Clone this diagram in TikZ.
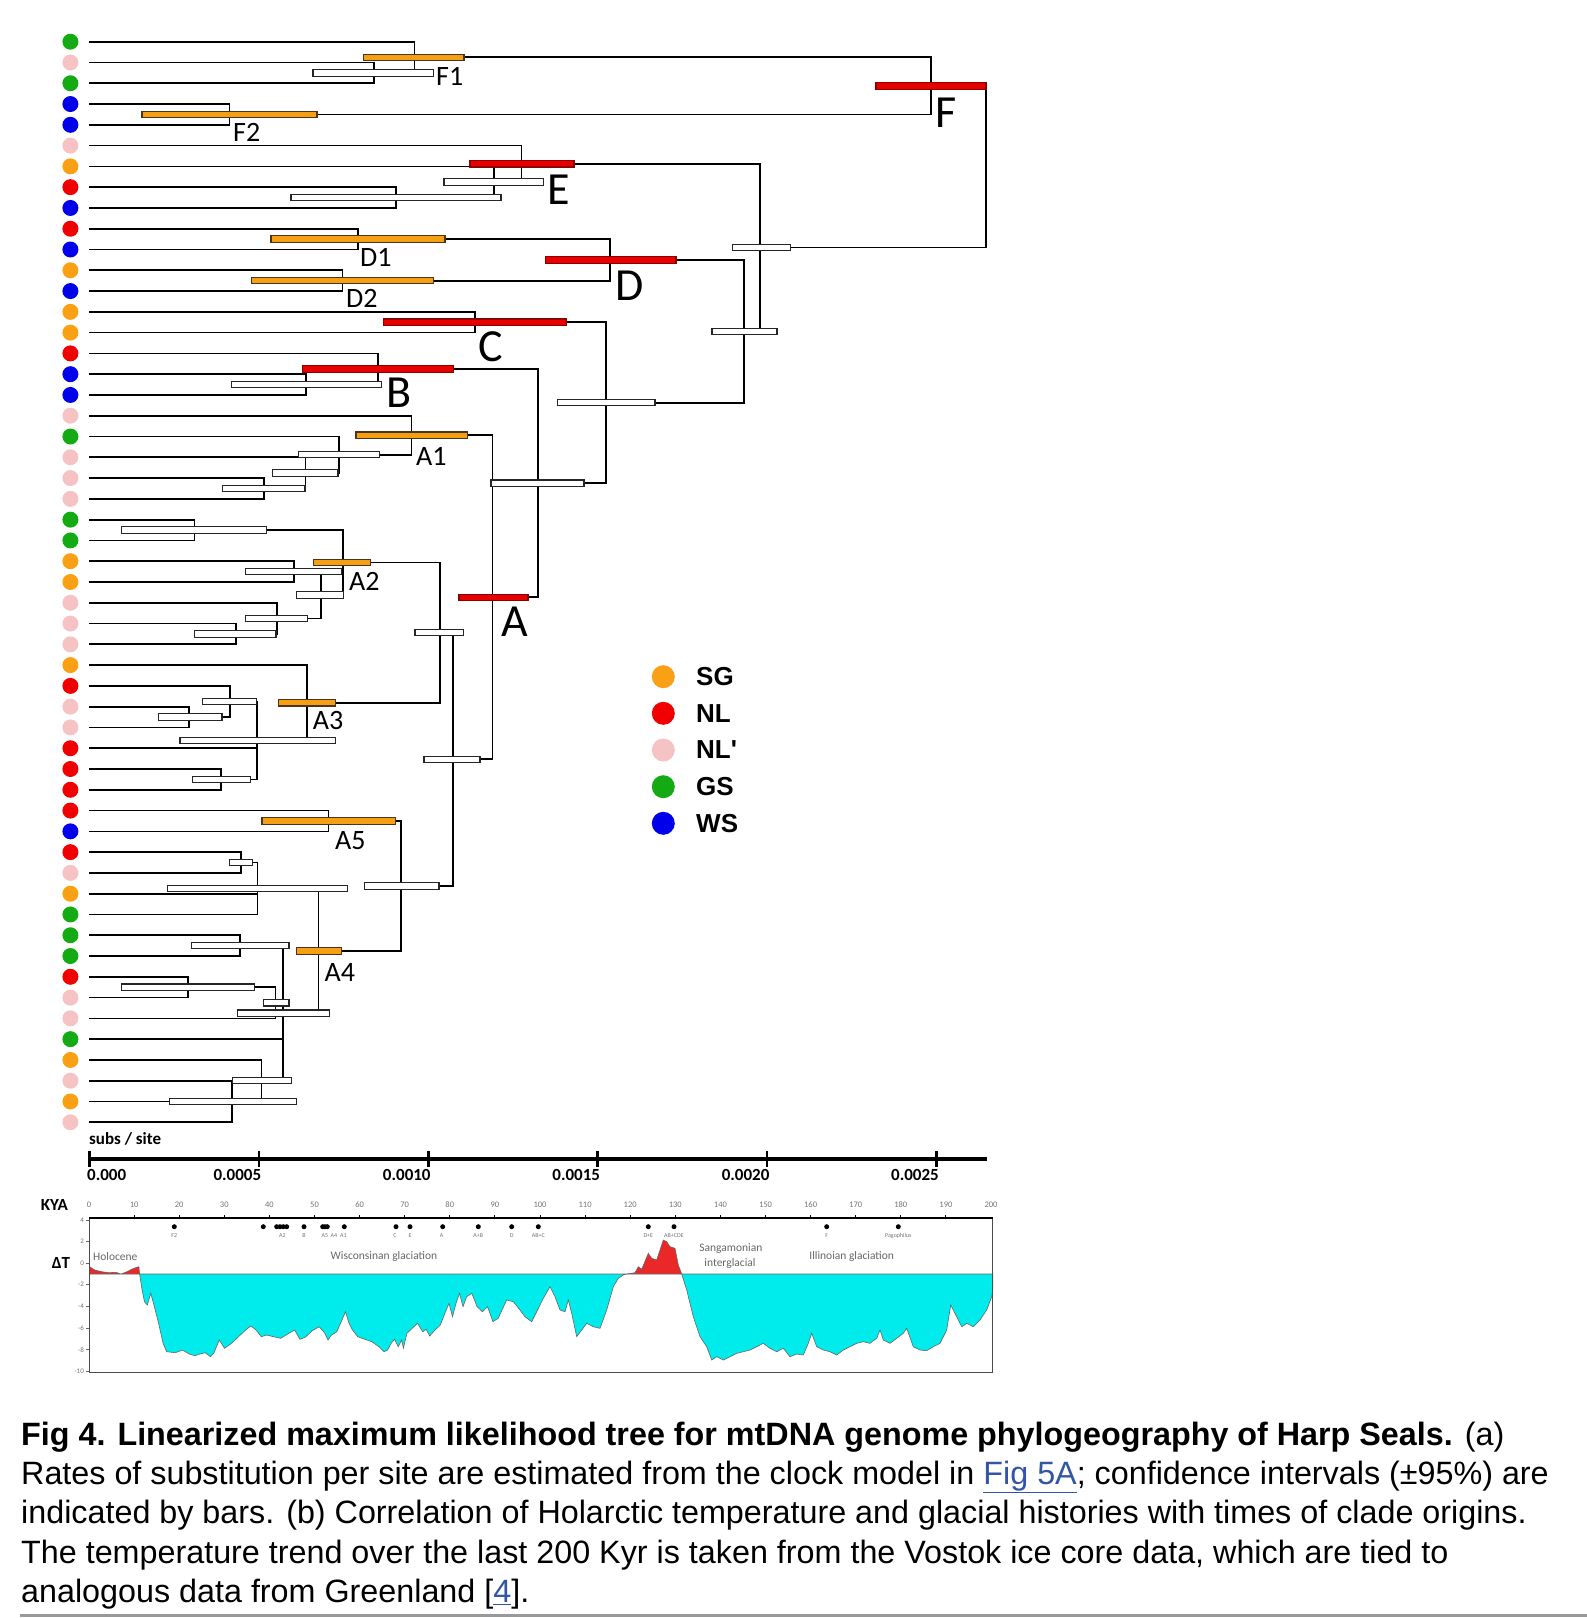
\documentclass[tikz,border=0pt]{standalone}
\usepackage{fontspec}
\setmainfont{Liberation Sans}
\newfontfamily\calib{Carlito}
\usetikzlibrary{positioning}
\definecolor{sg}{RGB}{250,160,20}
\definecolor{nl}{RGB}{240,0,0}
\definecolor{nlp}{RGB}{245,195,195}
\definecolor{gs}{RGB}{20,170,20}
\definecolor{ws}{RGB}{0,0,235}
\definecolor{barred}{RGB}{230,0,0}
\definecolor{barorange}{RGB}{245,160,20}
\definecolor{ice}{RGB}{0,235,235}
\definecolor{warm}{RGB}{235,40,40}
\definecolor{link}{RGB}{50,85,165}

\begin{document}
\begin{tikzpicture}[x=1pt,y=-1pt,
  tip/.style={circle,inner sep=0pt,minimum size=16pt},
  branch/.style={line width=1.7pt},
  wbar/.style={draw=black!85,fill=white,line width=1.1pt},
  obar/.style={draw=black!60!brown,fill=barorange,line width=1.1pt},
  rbar/.style={draw=red!55!black,fill=barred,line width=1.1pt},
  cladelab/.style={font={\calib\fontsize{28}{28}\selectfont},inner sep=0pt,anchor=west},
  majorlab/.style={font={\calib\fontsize{46}{46}\selectfont},inner sep=0pt,anchor=west},
  keydot/.style={circle,inner sep=0pt,minimum size=23pt},
  keytext/.style={font={\bfseries\fontsize{26}{26}\selectfont},inner sep=0pt},
  axnum/.style={font={\calib\bfseries\fontsize{17}{17}\selectfont},inner sep=0pt},
  kyanum/.style={font={\calib\fontsize{8.5}{8.5}\selectfont},text=black!55,inner sep=0pt},
  tnum/.style={font={\calib\fontsize{7}{7}\selectfont},text=black!55,inner sep=0pt,anchor=east},
  evdot/.style={circle,fill=black,inner sep=0pt,minimum size=5pt},
  evlab/.style={font={\calib\fontsize{6}{6}\selectfont},text=black!55,inner sep=0pt},
  era/.style={font={\calib\fontsize{11.5}{11.5}\selectfont},text=black!60,inner sep=0pt},
  capt/.style={font={\fontsize{32.3}{32.3}\selectfont},inner sep=0pt,anchor=base west}]
\useasboundingbox (0,0) rectangle (1587,1618);

\foreach \c [count=\i from 0] in {gs,nlp,gs,ws,ws,nlp,sg,nl,ws,nl,ws,sg,ws,sg,sg,nl,ws,ws,nlp,gs,nlp,nlp,nlp,gs,gs,sg,sg,nlp,nlp,nlp,sg,nl,nlp,nlp,nl,nl,nl,nl,ws,nl,nlp,sg,gs,gs,gs,nl,nlp,nlp,gs,sg,nlp,sg,nlp}
  {\coordinate (t\i) at (89,{41.7+20.78*\i});
   \node[tip,fill=\c] (d\i) at (70.4,{41.7+20.78*\i}) {};}

\foreach \n/\x/\y in {n12/374/72.9,F1/414.5/57.3,F2/229.6/114.4,F/931/85.9,n78/396/197.6,n678/493.7/182,
  E/521.6/163.8,D1/357.8/239.1,D2/342.5/280.7,D/610.3/259.9,C/475.3/322.2,n1617/306/384.6,B/377.7/369,
  n2122/264/488.5,n20/305.4/472.9,n19/338.7/454.7,A1/411.4/435.2,n2324/194.4/530,n2526/294.3/571.6,
  n2829/235.7/633.9,Z2/276.7/618.4,Z1/320.7/595,A2/342.7/562.5,n3233/189.3/717.1,W2/230/701.5,
  n3536/221/779.4,W1/257.3/740.5,A3/306.7/702.8,Y2/440/632.7,A5/328.4/821,n3940/241/862.5,
  V1/257.6/888.5,n4344/240.3/945.7,n4546/188.3/987.2,U/275.5/1002.8,S/232.3/1101.5,T/261.4/1080.7,
  V2/283.2/1013.2,A4/318.4/950.9,Y3/401/886,Y1/452.7/759.3,A/492.5/597.3,X3/537.7/483.2,
  X2/606/402.7,X1/744/331.3,X0/760/247.6,R/986/166.7}
  \coordinate (\n) at (\x,\y);

\foreach \c/\p in {t1/n12,t2/n12,t0/F1,n12/F1,t3/F2,t4/F2,F1/F,F2/F,t7/n78,t8/n78,t6/n678,n78/n678,
  t5/E,n678/E,t9/D1,t10/D1,t11/D2,t12/D2,D1/D,D2/D,t13/C,t14/C,t16/n1617,t17/n1617,t15/B,n1617/B,
  t21/n2122,t22/n2122,t20/n20,n2122/n20,t19/n19,n20/n19,t18/A1,n19/A1,t23/n2324,t24/n2324,
  t25/n2526,t26/n2526,t28/n2829,t29/n2829,t27/Z2,n2829/Z2,n2526/Z1,Z2/Z1,n2324/A2,Z1/A2,
  t32/n3233,t33/n3233,t31/W2,n3233/W2,t35/n3536,t36/n3536,W2/W1,t34/W1,n3536/W1,t30/A3,W1/A3,
  A2/Y2,A3/Y2,t37/A5,t38/A5,t39/n3940,t40/n3940,n3940/V1,t41/V1,t42/V1,t43/n4344,t44/n4344,
  t45/n4546,t46/n4546,n4546/U,t47/U,t50/S,t51/S,t52/S,t49/T,S/T,n4344/V2,U/V2,t48/V2,T/V2,
  V1/A4,V2/A4,A5/Y3,A4/Y3,Y2/Y1,Y3/Y1,A1/A,Y1/A,B/X3,A/X3,C/X2,X3/X2,D/X1,X2/X1,E/X0,X1/X0,F/R,X0/R}
  \draw[branch] (\c) -| (\p);

\foreach \s/\a/\b/\y in {wbar/313/433.6/72.9,obar/363.6/464/57.3,obar/142/317/114.4,rbar/876/986/85.9,
  wbar/291/501/197.6,wbar/444/543.4/182,rbar/470/574/163.8,obar/271/445/239.1,obar/251.4/433.6/280.7,
  rbar/545.7/676/259.9,rbar/383.8/566.4/322.2,wbar/231.5/381.5/384.6,rbar/302.3/453.5/369,
  wbar/222.7/305/488.5,wbar/272.5/338/472.9,wbar/298.5/379.6/454.7,obar/356/467.7/435.2,
  wbar/121.7/266.7/530,wbar/245.7/341.7/571.6,wbar/194.3/276/633.9,wbar/245.7/307.7/618.4,
  wbar/296.7/343.3/595,obar/313.3/370.7/562.5,wbar/158.8/222/717.1,wbar/202.3/256.5/701.5,
  wbar/192.3/250.7/779.4,wbar/180/335.7/740.5,obar/278.3/335.7/702.8,wbar/415/463.5/632.7,
  obar/262/395.3/821,wbar/229.6/252.6/862.5,wbar/167.6/347.1/888.5,wbar/191.3/289/945.7,
  wbar/121.7/254.5/987.2,wbar/263.3/289/1002.8,wbar/169.5/296.6/1101.5,wbar/232.3/291.6/1080.7,
  wbar/237.3/329.1/1013.2,obar/296.6/341.7/950.9,wbar/364.3/439/886,wbar/424/480/759.3,
  rbar/459/528/597.3,wbar/491/584/483.2,wbar/557.6/655/402.7,wbar/712/777/331.3,wbar/732.6/790.5/247.6}
  \draw[\s] (\a,{\y-3.2}) rectangle (\b,{\y+3.2});

\node[cladelab] (lF1) at (436,76) {F1};
\node[cladelab] (lF2) at (233,132) {F2};
\node[majorlab] (lF) at (935,112.5) {F};
\node[majorlab] (lE) at (547,190) {E};
\node[cladelab] (lD1) at (360,257) {D1};
\node[cladelab] (lD2) at (346,298) {D2};
\node[majorlab] (lD) at (615,286) {D};
\node[majorlab] (lC) at (478,346.5) {C};
\node[majorlab] (lB) at (386,393) {B};
\node[cladelab] (lA1) at (416,456) {A1};
\node[cladelab] (lA2) at (349,581.7) {A2};
\node[majorlab] (lA) at (501.7,622) {A};
\node[cladelab] (lA3) at (312.7,720.5) {A3};
\node[cladelab] (lA5) at (335,840.5) {A5};
\node[cladelab] (lA4) at (324.5,972) {A4};

\node[keydot,fill=sg] (kSG) at (663.3,676.7) {};
\node[keydot,fill=nl] (kNL) at (663.3,713.3) {};
\node[keydot,fill=nlp] (kNLp) at (663.3,750) {};
\node[keydot,fill=gs] (kGS) at (663.3,786.7) {};
\node[keydot,fill=ws] (kWS) at (663.3,823.3) {};
\node[keytext,right=21pt of kSG] (lSG) {SG};
\node[keytext,right=21pt of kNL] (lNL) {NL};
\node[keytext,right=21pt of kNLp] (lNLp) {NL\textquotesingle};
\node[keytext,right=21pt of kGS] (lGS) {GS};
\node[keytext,right=21pt of kWS] (lWS) {WS};

\node[axnum,anchor=west] (subs) at (89,1139) {subs / site};
\draw[line width=3.5pt] (89.5,1159) -- (987,1159);
\foreach \j in {0,...,5}
  \draw[line width=2.5pt] ({89.5+169.4*\j},1151) -- ({89.5+169.4*\j},1167);
\node[axnum,anchor=west] (s0) at (87,1175) {0.000};
\foreach \v [count=\j] in {0.0005,0.0010,0.0015,0.0020,0.0025}
  \node[axnum,anchor=east] (s\j) at ({92+169.4*\j},1175) {\v};

\node[axnum] (kya) at (54.4,1205) {KYA};
\foreach \k in {0,10,...,200}
  \node[kyanum] (k\k) at ({89+4.51*\k},1205) {\k};
\node[axnum] (dT) at (61,1263) {ΔT};
\foreach \v/\yy [count=\j] in {4/1220,2/1241.7,0/1263,-2/1284.7,-4/1306.4,-6/1328,-8/1349.8,-10/1371.5}
  {\node[tnum] (tv\j) at (84,\yy) {\v};
   \draw[black!60,line width=0.8pt] (86,\yy) -- (89,\yy);}

\fill[warm,draw=black!60,line width=0.6pt] (89.5,1274) -- (89.5,1266.7) -- (94.7,1270) -- (101.7,1271.7)
  -- (108.7,1272.7) -- (115.8,1272.3) -- (121,1274) -- (126.3,1272) -- (131.6,1269.3) -- (136.8,1267.3)
  -- (138.9,1266.7) -- (139.6,1274) -- cycle;
\fill[ice,draw=black!60,line width=0.6pt] (139.6,1274) -- (142.1,1290) -- (144.5,1301.7) -- (147.3,1305)
  -- (150.8,1293.3) -- (154.4,1306.7) -- (158.6,1323.3) -- (163.1,1343.3) -- (166.6,1351.7) -- (175.4,1352.7)
  -- (182.4,1350) -- (189.4,1354) -- (194.7,1355.7) -- (200,1354) -- (205.2,1352.7) -- (210.5,1356.7)
  -- (214,1352.7) -- (219.3,1340) -- (224.5,1348.3) -- (231.5,1343.3) -- (238.5,1336.7) -- (245.6,1330)
  -- (250.8,1326) -- (256.1,1330) -- (261.3,1336.7) -- (266.6,1335) -- (273.6,1336.7) -- (280.6,1338.3)
  -- (287.7,1334) -- (294.7,1330) -- (299.9,1339.3) -- (305.2,1337.3) -- (312.2,1330.7) -- (319.2,1326.7)
  -- (324.5,1332.7) -- (328,1340) -- (331.5,1335) -- (336.8,1331.7) -- (342,1320) -- (345.5,1311.7)
  -- (349,1323.3) -- (352.5,1330) -- (357.8,1336.7) -- (364.8,1339.3) -- (371.8,1341.7) -- (378.9,1346.7)
  -- (384.1,1351.7) -- (387.6,1350) -- (391.1,1343.3) -- (394.6,1339.3) -- (398.2,1346.7) -- (401.7,1340)
  -- (403.4,1348.3) -- (406.9,1333.3) -- (412.2,1328.3) -- (417.5,1323.3) -- (422.7,1331.7) -- (426.2,1329.3)
  -- (429.7,1336) -- (435,1330) -- (440.3,1325) -- (445.5,1311.7) -- (449,1303.3) -- (452.5,1316.7)
  -- (456,1303.3) -- (459.5,1293.3) -- (463,1306.7) -- (466.6,1296.7) -- (471.8,1293.3) -- (477.1,1306.7)
  -- (482.4,1311.7) -- (487.6,1306.7) -- (492.9,1321.7) -- (498.1,1318.3) -- (506.7,1300) -- (513.3,1301.7)
  -- (520,1310) -- (525,1316.7) -- (531.7,1321.7) -- (536.7,1311.7) -- (543.3,1298.3) -- (550,1286.7)
  -- (555,1296.7) -- (560,1310) -- (565,1311.7) -- (568.3,1300) -- (571.7,1313.3) -- (576.7,1336.7)
  -- (581.7,1330) -- (586.7,1323.3) -- (593.3,1326.7) -- (600,1328.3) -- (606.7,1310) -- (613.3,1286.7)
  -- (618.3,1278.3) -- (623.3,1275) -- (626.7,1274) -- cycle;
\fill[warm,draw=black!60,line width=0.6pt] (626.7,1274) -- (635,1272.7) -- (638.3,1266.7) -- (641.7,1269.3)
  -- (648.3,1253.3) -- (651.7,1258.3) -- (656.7,1260) -- (663.3,1240) -- (666.7,1241.7) -- (670,1246.7)
  -- (675,1248.3) -- (678.3,1265) -- (681.7,1274) -- cycle;
\fill[ice,draw=black!60,line width=0.6pt] (681.7,1274) -- (686.7,1290) -- (693.3,1316.7) -- (700,1336.7)
  -- (706.7,1346.7) -- (711.7,1360) -- (716.7,1356.7) -- (723.3,1360) -- (730,1356.7) -- (736.7,1353.3)
  -- (743.3,1351.7) -- (750,1350) -- (756.7,1346.7) -- (763.3,1343.3) -- (770,1348.3) -- (776.7,1351.7)
  -- (783.3,1348.3) -- (790,1356.7) -- (796.7,1354) -- (803.3,1355) -- (808.3,1343.3) -- (811.7,1333.3)
  -- (816.7,1346.7) -- (823.3,1350) -- (830,1351.7) -- (836.7,1355) -- (843.3,1350) -- (850,1346.7)
  -- (856.7,1343.3) -- (863.3,1341.7) -- (870,1343.3) -- (876.7,1338.3) -- (880,1330) -- (883.3,1340)
  -- (890,1343.3) -- (896.7,1338.3) -- (903.3,1333.3) -- (906.7,1328.3) -- (913.3,1346.7) -- (920,1350)
  -- (926.7,1350.7) -- (933.3,1346.7) -- (940,1343.3) -- (946.7,1330) -- (950.7,1305) -- (956.7,1316.7)
  -- (961.7,1326.7) -- (966.7,1323.3) -- (973.3,1326.7) -- (980,1320) -- (986.7,1310) -- (991.7,1296.7)
  -- (992.7,1290) -- (992.7,1274) -- cycle;

\draw[black!70,line width=0.8pt] (89,1218) -- (89,1372.7) -- (992.7,1372.7) -- (992.7,1218);
\draw[line width=1.4pt] (89,1218) -- (992.7,1218);
\foreach \k in {10,20,...,190}
  \draw[line width=1pt] ({89+4.51*\k},1218) -- ({89+4.51*\k},1214.5);

\foreach \x [count=\j] in {174.3,263.3,276.7,280,283.3,286.7,304,322.7,325,327.3,344.3,396,410,442.7,478.3,511.7,538.3,648.3,674,826.7,898.3}
  \node[evdot] (ev\j) at (\x,1226.7) {};
\foreach \x/\t [count=\j] in {174.3/F2,282.3/A2,304/B,325/A5,334/A4,343.3/A1,395/C,410/E,441.7/A,478.3/A+B,511.7/D,538.3/AB+C,648.3/D+E,674/AB+CDE,826.7/F,898.3/Pagophilus}
  \node[evlab] (evl\j) at (\x,1236) {\t};

\node[era,anchor=west] (holo) at (93,1256.7) {Holocene};
\node[era] (wisc) at (384,1256.7) {Wisconsinan glaciation};
\node[era] (sang) at (730.8,1249) {Sangamonian};
\node[era] (inter) at (730,1263.3) {interglacial};
\node[era] (illi) at (851.7,1256) {Illinoian glaciation};

\node[capt] (cap1) at (21,1445) {\textbf{Fig 4. Linearized maximum likelihood tree for mtDNA genome phylogeography of Harp Seals.} (a)};
\node[capt] (cap2) at (21,1484.4) {Rates of substitution per site are estimated from the clock model in {\color{link}\underline{Fig 5A}}; confidence intervals (±95\%) are};
\node[capt] (cap3) at (21,1523.6) {indicated by bars. (b) Correlation of Holarctic temperature and glacial histories with times of clade origins.};
\node[capt] (cap4) at (21,1563.6) {The temperature trend over the last 200 Kyr is taken from the Vostok ice core data, which are tied to};
\node[capt] (cap5) at (21,1602.8) {analogous data from Greenland [{\color{link}\underline{4}}].};
\draw[black!40,line width=3pt] (20,1615.5) -- (1587,1615.5);
\end{tikzpicture}
\end{document}
